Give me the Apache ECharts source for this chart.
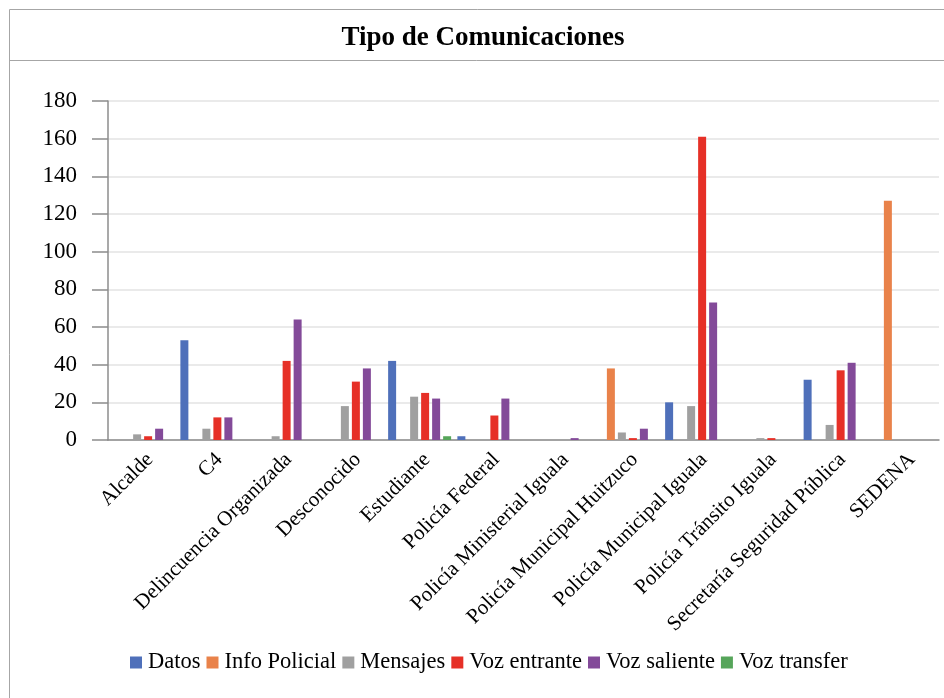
<!DOCTYPE html>
<html>
<head>
<meta charset="utf-8">
<script src="https://cdn.jsdelivr.net/npm/echarts@6/dist/echarts.min.js"></script>
<style>html,body{margin:0;padding:0;background:#fff}#c{width:944px;height:698px}</style>
</head>
<body>
<div id="c"></div>
<script>
const categories = ['Alcalde','C4','Delincuencia Organizada','Desconocido','Estudiante','Policía Federal','Policía Ministerial Iguala','Policía Municipal Huitzuco','Policía Municipal Iguala','Policía Tránsito Iguala','Secretaría Seguridad Pública','SEDENA'];
const seriesNames = ['Datos','Info Policial','Mensajes','Voz entrante','Voz saliente','Voz transfer'];
const datos        = [0, 53, 0, 0, 42, 2, 0, 0, 20, 0, 32, 0];
const infoPolicial = [0, 0, 0, 0, 0, 0, 0, 38, 0, 0, 0, 127];
const mensajes     = [3, 6, 2, 18, 23, 0, 0, 4, 18, 1, 8, 0];
const vozEntrante  = [2, 12, 42, 31, 25, 13, 0, 1, 161, 1, 37, 0];
const vozSaliente  = [6, 12, 64, 38, 22, 22, 1, 6, 73, 0, 41, 0];
const vozTransfer  = [0, 0, 0, 0, 2, 0, 0, 0, 0, 0, 0, 0];
const yTicks = {min: 0, max: 180, interval: 20};

const colors = ['#4f70ba','#e9824a','#a0a0a0','#e63027','#834a99','#56a55a'];
const allData = [datos, infoPolicial, mensajes, vozEntrante, vozSaliente, vozTransfer];
const font = 'Liberation Serif, Times New Roman, serif';

const chart = echarts.init(document.getElementById('c'));
chart.setOption({
  animation: false,
  color: colors,
  title: {
    text: 'Tipo de Comunicaciones', left: 478, top: 20, textAlign: 'center',
    textStyle: {fontFamily: font, fontSize: 27, fontWeight: 'bold', color: '#000'}
  },
  graphic: [
    {type: 'rect', shape: {x: 9.5, y: 9.5, width: 940, height: 700}, style: {fill: 'none', stroke: '#a6a6a6', lineWidth: 1}, silent: true},
    {type: 'line', shape: {x1: 9.5, y1: 60.5, x2: 944, y2: 60.5}, style: {stroke: '#a6a6a6', lineWidth: 1}, silent: true}
  ],
  legend: {
    data: seriesNames, top: 651, left: 130, padding: 0,
    itemWidth: 12, itemHeight: 12, itemGap: 6,
    icon: 'rect',
    textStyle: {fontFamily: font, fontSize: 22.5, color: '#000', padding: [0, 0, 0, 1]}
  },
  grid: {left: 108, right: 5, top: 101, bottom: 258, containLabel: false},
  xAxis: {
    type: 'category', data: categories,
    axisLine: {lineStyle: {color: '#8c8c8c', width: 1.5}},
    axisTick: {length: 14, lineStyle: {color: '#8c8c8c', width: 1.5}},
    axisLabel: {rotate: 45, interval: 0, fontFamily: font, fontSize: 21, color: '#000', margin: 9, verticalAlign: 'top'}
  },
  yAxis: {
    type: 'value', min: yTicks.min, max: yTicks.max, interval: yTicks.interval,
    axisLine: {show: true, lineStyle: {color: '#8c8c8c', width: 1.5}},
    axisTick: {show: true, length: 16, lineStyle: {color: '#8c8c8c', width: 1.5}},
    axisLabel: {fontFamily: font, fontSize: 23, color: '#000', margin: 31},
    splitLine: {lineStyle: {color: '#e3e3e3', width: 1.5}}
  },
  series: seriesNames.map((n, i) => ({
    name: n, type: 'bar', data: allData[i], barWidth: 8, barGap: '37.5%'
  }))
});
</script>
</body>
</html>
